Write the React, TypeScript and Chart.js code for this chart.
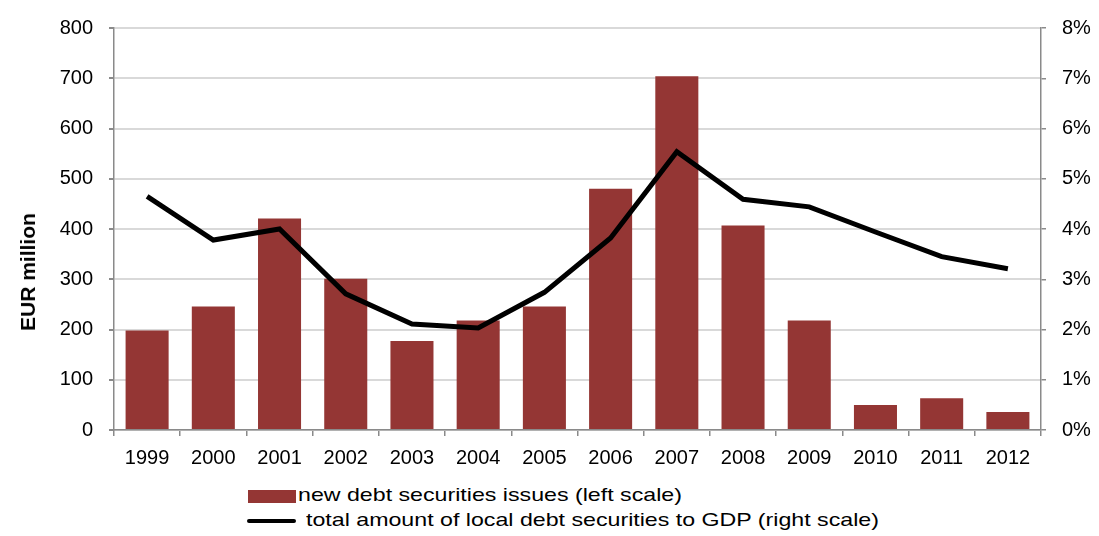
import React, { useEffect, useRef } from "react";
import { Chart, registerables } from "chart.js";

Chart.register(...registerables);

const categories = ["1999", "2000", "2001", "2002", "2003", "2004", "2005", "2006", "2007", "2008", "2009", "2010", "2011", "2012"];
const newIssues = [198, 246, 421, 301, 177, 218, 246, 480, 704, 407, 218, 50, 63, 36];
const debtToGdp = [4.65, 3.78, 4.0, 2.71, 2.11, 2.03, 2.74, 3.82, 5.54, 4.59, 4.44, 3.94, 3.45, 3.21];
const barLabel = "new debt securities issues (left scale)";
const lineLabel = "total amount of local debt securities to GDP (right scale)";
const yTitle = "EUR million";

const FONT = "'Liberation Sans', Arial, sans-serif";
const BAR_COLOR = "#943634";
const AXIS_COLOR = "#8a8a8a";
const GRID_COLOR = "#d9d9d9";

export default function App() {
  const canvasRef = useRef<HTMLCanvasElement | null>(null);

  useEffect(() => {
    const canvas = canvasRef.current;
    if (!canvas) return;
    const chart = new Chart(canvas, {
      type: "bar",
      data: {
        labels: categories,
        datasets: [
          {
            type: "line",
            label: lineLabel,
            data: debtToGdp,
            yAxisID: "y1",
            borderColor: "#000000",
            backgroundColor: "#000000",
            borderWidth: 5,
            pointRadius: 0,
            tension: 0,
            order: 0,
          } as any,
          {
            type: "bar",
            label: barLabel,
            data: newIssues,
            yAxisID: "y",
            backgroundColor: BAR_COLOR,
            borderWidth: 0,
            barPercentage: 0.65,
            categoryPercentage: 1.0,
            order: 1,
          },
        ],
      },
      options: {
        animation: false,
        responsive: true,
        maintainAspectRatio: false,
        layout: { padding: { top: 26, left: 0, right: 0, bottom: 0 } },
        plugins: {
          legend: { display: false },
          tooltip: { enabled: false },
        },
        scales: {
          x: {
            grid: {
              offset: true,
              drawOnChartArea: false,
              drawTicks: true,
              tickLength: 6,
              tickColor: AXIS_COLOR,
              lineWidth: 1.5,
            },
            border: { color: AXIS_COLOR, width: 1.5 },
            ticks: {
              color: "#000",
              font: { family: FONT, size: 20 },
              padding: 10,
              maxRotation: 0,
              autoSkip: false,
            },
            afterFit: (s: any) => {
              s.height = 50;
            },
          },
          y: {
            position: "left",
            min: 0,
            max: 800,
            ticks: {
              stepSize: 100,
              color: "#000",
              font: { family: FONT, size: 20 },
              padding: 16,
            },
            grid: {
              color: GRID_COLOR,
              lineWidth: 2,
              tickColor: AXIS_COLOR,
              tickLength: 5,
            },
            border: { color: AXIS_COLOR, width: 1.5 },
            afterFit: (s: any) => {
              s.width = 114;
            },
          },
          y1: {
            position: "right",
            min: 0,
            max: 8,
            ticks: {
              stepSize: 1,
              color: "#000",
              font: { family: FONT, size: 20 },
              padding: 16,
              callback: (v: any) => `${v}%`,
            },
            grid: {
              drawOnChartArea: false,
              tickColor: AXIS_COLOR,
              tickLength: 5,
              lineWidth: 1.5,
            },
            border: { color: AXIS_COLOR, width: 1.5 },
            afterFit: (s: any) => {
              s.width = 58;
            },
          },
        },
      },
    });
    return () => chart.destroy();
  }, []);

  return (
    <div style={{ position: "absolute", left: 0, top: 0, width: 1099, height: 536, fontFamily: FONT, background: "#fff" }}>
      <div style={{ position: "absolute", left: 0, top: 0, width: 1099, height: 480 }}>
        <canvas ref={canvasRef} />
      </div>
      <div
        style={{
          position: "absolute",
          left: 28,
          top: 272,
          transform: "translate(-50%, -50%) rotate(-90deg)",
          whiteSpace: "nowrap",
          fontWeight: "bold",
          fontSize: 21,
          color: "#000",
        }}
      >
        {yTitle}
      </div>
      <div style={{ position: "absolute", left: 248, top: 490, width: 48, height: 13, background: BAR_COLOR }} />
      <div
        style={{
          position: "absolute",
          left: 298,
          top: 484,
          fontSize: 19,
          lineHeight: "22px",
          whiteSpace: "nowrap",
          color: "#000",
          transform: "scaleX(1.22)",
          transformOrigin: "left center",
        }}
      >
        {barLabel}
      </div>
      <div style={{ position: "absolute", left: 247, top: 519, width: 49, height: 4, background: "#000", borderRadius: 2 }} />
      <div
        style={{
          position: "absolute",
          left: 306,
          top: 509,
          fontSize: 19,
          lineHeight: "22px",
          whiteSpace: "nowrap",
          color: "#000",
          transform: "scaleX(1.22)",
          transformOrigin: "left center",
        }}
      >
        {lineLabel}
      </div>
    </div>
  );
}
